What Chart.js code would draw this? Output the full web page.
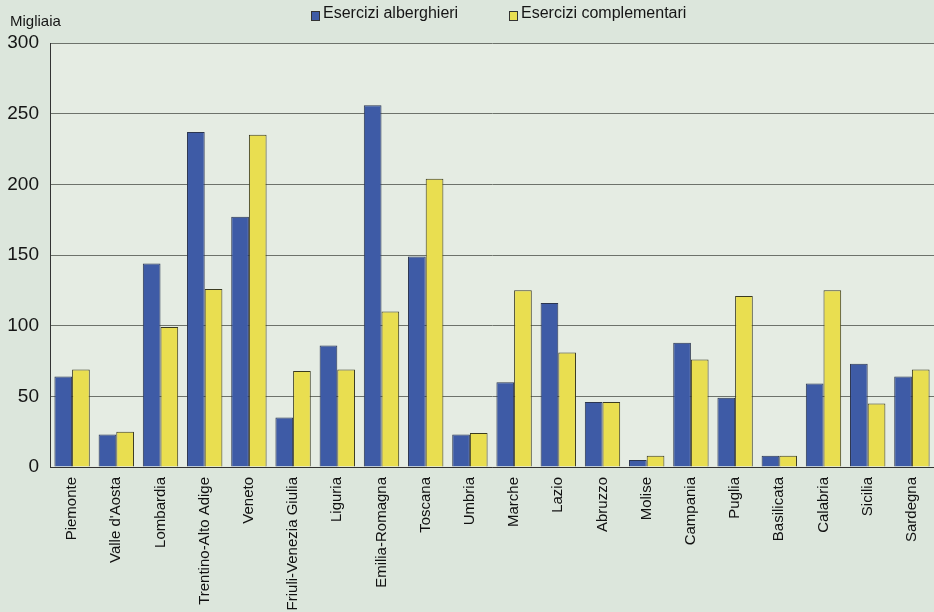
<!DOCTYPE html>
<html>
<head>
<meta charset="utf-8">
<script src="https://cdn.jsdelivr.net/npm/chart.js@4.4.1/dist/chart.umd.min.js"></script>
<style>
    html, body { margin: 0; padding: 0; background: #dce6dc; }
    #wrap { width: 934px; height: 612px; position: relative; }
</style>
</head>
<body>
<div id="wrap"><canvas id="regionChart"></canvas></div>
<script>
// Regions (categories)
const regions = [
    "Piemonte", "Valle d'Aosta", "Lombardia", "Trentino-Alto Adige", "Veneto",
    "Friuli-Venezia Giulia", "Liguria", "Emilia-Romagna", "Toscana", "Umbria",
    "Marche", "Lazio", "Abruzzo", "Molise", "Campania",
    "Puglia", "Basilicata", "Calabria", "Sicilia", "Sardegna"
];

// Thousands of beds
const alberghieri = [64, 23, 144, 237, 177, 35, 86, 256, 149, 23, 60, 116, 46, 5, 88, 49, 8, 59, 73, 64];
const complementari = [69, 25, 99, 126, 235, 68, 69, 110, 204, 24, 125, 81, 46, 8, 76, 121, 8, 125, 45, 69];

const seriesLabels = ["Esercizi alberghieri", "Esercizi complementari"];
const yTicks = [0, 50, 100, 150, 200, 250, 300];
const unitLabel = "Migliaia";

const blue = "rgb(62, 91, 166)";
const yellow = "rgb(233, 222, 80)";

// Background + custom legend drawn on the canvas
const paperPlugin = {
    id: "paper",
    beforeDraw(chart) {
        const { ctx, chartArea } = chart;
        ctx.save();
        ctx.fillStyle = "#dce6dc";
        ctx.fillRect(0, 0, chart.width, chart.height);
        ctx.fillStyle = "#e5ece3";
        ctx.fillRect(chartArea.left, chartArea.top, chartArea.right - chartArea.left, chartArea.bottom - chartArea.top);
        ctx.restore();
    },
    afterDraw(chart) {
        const ctx = chart.ctx;
        ctx.save();
        ctx.font = "15px 'Liberation Sans', Arial, sans-serif";
        ctx.fillStyle = "#151515";
        ctx.textBaseline = "middle";
        ctx.fillText(unitLabel, 10, 22);

        // legend
        ctx.font = "16px 'Liberation Sans', Arial, sans-serif";
        const items = [
            { x: 311, color: blue },
            { x: 509, color: yellow }
        ];
        items.forEach((it, i) => {
            ctx.fillStyle = it.color;
            ctx.fillRect(it.x, 11, 9, 10);
            ctx.strokeStyle = "#333";
            ctx.lineWidth = 1;
            ctx.strokeRect(it.x + 0.5, 11.5, 8, 9);
            ctx.fillStyle = "#151515";
            ctx.fillText(seriesLabels[i], it.x + 12, 14);
        });
        ctx.restore();
    }
};

const ctx = document.getElementById("regionChart").getContext("2d");
new Chart(ctx, {
    type: "bar",
    data: {
        labels: regions,
        datasets: [
            {
                label: seriesLabels[0],
                data: alberghieri,
                backgroundColor: blue,
                borderColor: "#2b3550",
                borderWidth: 1,
                categoryPercentage: 0.8,
                barPercentage: 1.0
            },
            {
                label: seriesLabels[1],
                data: complementari,
                backgroundColor: yellow,
                borderColor: "#3a3a20",
                borderWidth: 1,
                categoryPercentage: 0.8,
                barPercentage: 1.0
            }
        ]
    },
    options: {
        responsive: true,
        maintainAspectRatio: false,
        animation: false,
        layout: { padding: { top: 43, right: 0, left: 0, bottom: 0 } },
        plugins: {
            legend: { display: false },
            tooltip: { enabled: false }
        },
        scales: {
            x: {
                grid: { display: false, drawTicks: false },
                border: { display: true, color: "#333", width: 1 },
                ticks: {
                    minRotation: 90,
                    maxRotation: 90,
                    autoSkip: false,
                    padding: 10,
                    color: "#111",
                    font: { family: "'Liberation Sans', Arial, sans-serif", size: 15 }
                },
                afterFit(scale) {
                    scale.height = 145;
                    scale.paddingRight = 0;
                    scale.paddingLeft = 0;
                }
            },
            y: {
                min: 0,
                max: 300,
                afterBuildTicks(scale) {
                    scale.ticks = yTicks.map(v => ({ value: v }));
                },
                grid: { color: "#6d726b", lineWidth: 1, drawTicks: false },
                border: { display: true, color: "#333", width: 1 },
                ticks: {
                    padding: 11,
                    color: "#151515",
                    font: { family: "'Liberation Sans', Arial, sans-serif", size: 19 }
                },
                afterFit(scale) { scale.width = 50; }
            }
        }
    },
    plugins: [paperPlugin]
});
</script>
</body>
</html>
